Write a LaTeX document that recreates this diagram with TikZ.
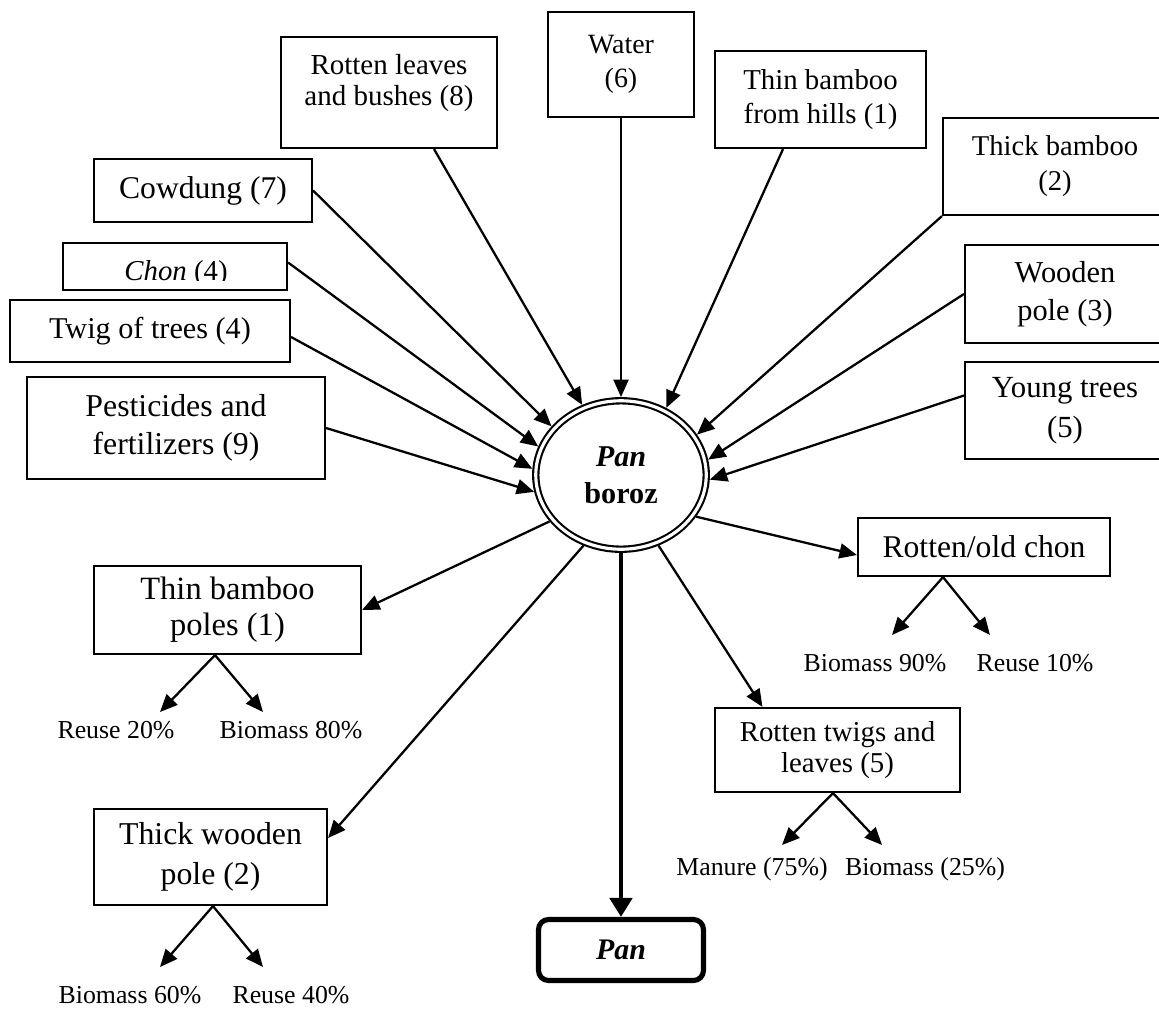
\documentclass[tikz,border=0pt]{standalone}
\usepackage{fontspec}
\setmainfont{Liberation Serif}
\usetikzlibrary{arrows.meta,shapes.geometric,calc}
\begin{document}
\begin{tikzpicture}[x=0.02cm,y=-0.02cm,
  box/.style={draw,line width=1.25pt,inner sep=0pt,align=center},
  arr/.style={line width=1.3pt,-{Triangle[length=0.35cm,width=0.3cm]}},
  lbl/.style={anchor=base,inner sep=0pt,font=\fontsize{14.7pt}{17pt}\selectfont},
]
\useasboundingbox (0,0) rectangle (1159,1011);
\clip (0,0) rectangle (1159,1011);

% input boxes
\node[box,minimum width=4.32cm,minimum height=2.22cm] (leaves) at (389,92.5) {};
\node[align=center,inner sep=0pt,font=\fontsize{16.5pt}{18.1pt}\selectfont] (leavesT) at (389,83) {Rotten leaves\\and bushes (8)};
\node[box,minimum width=2.92cm,minimum height=2.10cm,font=\fontsize{15.9pt}{19.3pt}\selectfont] (water) at (621,64.5) {Water\\(6)};
\node[box,minimum width=4.22cm,minimum height=1.94cm,font=\fontsize{16.4pt}{19.3pt}\selectfont] (hills) at (820.5,99.5) {Thin bamboo\\from hills (1)};
\node[box,minimum width=4.48cm,minimum height=1.94cm,font=\fontsize{16.3pt}{19.8pt}\selectfont] (thickb) at (1055,166.5) {Thick bamboo\\(2)};
\node[box,minimum width=4.0cm,minimum height=1.96cm,font=\fontsize{17.3pt}{21.5pt}\selectfont] (wooden) at (1065,294) {Wooden\\pole (3)};
\node[box,minimum width=4.0cm,minimum height=1.94cm,font=\fontsize{17.5pt}{23pt}\selectfont] (young) at (1065,410.5) {Young trees\\(5)};
\node[box,minimum width=4.36cm,minimum height=1.26cm,font=\fontsize{18pt}{21pt}\selectfont] (cowdung) at (203,190.5) {Cowdung (7)};
\node[box,minimum width=4.48cm,minimum height=0.94cm] (chon) at (175,266.5) {};
\begin{scope}
  \clip (64,244) rectangle (286,280.5);
  \node[anchor=base,inner sep=0pt,font=\fontsize{16.4pt}{19pt}\selectfont] (chonT) at (176,280) {\textit{Chon} (4)};
\end{scope}
\node[box,minimum width=5.6cm,minimum height=1.24cm,font=\fontsize{17.2pt}{20pt}\selectfont] (twig) at (150,331) {Twig of trees (4)};
\node[box,minimum width=5.96cm,minimum height=2.04cm,font=\fontsize{18.1pt}{21.5pt}\selectfont] (pesticides) at (176,428) {Pesticides and\\fertilizers (9)};

% centre
\node[ellipse,draw,double,line width=1.2pt,double distance=1.8pt,outer sep=2.1pt,inner sep=0pt,
      minimum width=3.41cm,minimum height=2.97cm,align=center,
      font=\fontsize{17.2pt}{21pt}\selectfont\bfseries] (boroz) at (621,475) {\textit{Pan}\\boroz};

% output boxes
\node[box,minimum width=5.34cm,minimum height=1.76cm,font=\fontsize{18.5pt}{20.4pt}\selectfont] (poles) at (227.5,610) {Thin bamboo\\poles (1)};
\node[box,minimum width=4.66cm,minimum height=1.92cm,font=\fontsize{18.1pt}{23pt}\selectfont] (thickwood) at (210.5,857) {Thick wooden\\pole (2)};
\node[box,minimum width=5.04cm,minimum height=1.16cm,font=\fontsize{18pt}{21pt}\selectfont] (oldchon) at (984,547) {Rotten/old chon};
\node[box,minimum width=4.90cm,minimum height=1.68cm,font=\fontsize{16.4pt}{18.1pt}\selectfont] (twigs) at (837.5,750) {Rotten twigs and\\leaves (5)};
\node[draw,line width=2.9pt,rounded corners=0.2cm,minimum width=3.3cm,minimum height=1.22cm,inner sep=0pt,
      font=\fontsize{17pt}{20pt}\selectfont\bfseries\itshape] (pan) at (621,950) {Pan};

% inputs
\draw[arr] ($(leaves.south)+(45,0)$) -- (boroz.119);
\draw[arr] (water.south) -- (boroz.north);
\draw[arr] ($(hills.south)+(-37.5,0)$) -- (boroz.56);
\draw[arr] (thickb.south west) -- (boroz.28);
\draw[arr] (wooden.west) -- (boroz.10);
\draw[arr] ($(young.west)+(0,-15)$) -- (boroz.-3);
\draw[arr] (cowdung.east) -- (boroz.145);
\draw[arr] ($(chon.east)+(0,-4)$) -- (boroz.161);
\draw[arr] ($(twig.east)+(0,6)$) -- (boroz.176);
\draw[arr] (pesticides.east) -- (boroz.191);

% outputs
\draw[arr] (boroz.213) -- (poles.east);
\draw[arr] (boroz.242) -- ($(thickwood.east)+(0,-19)$);
\draw[arr] (boroz.298) -- ($(twigs.north)+(-75,0)$);
\draw[arr] (boroz.331) -- ($(oldchon.west)+(0,8)$);
\draw[line width=2.7pt,-{Triangle[length=0.38cm,width=0.44cm]}] (boroz.south) -- (pan.north);

% forks
\coordinate (pA) at (160,712);
\coordinate (pB) at (263,712);
\draw[arr] ($(poles.south)+(-12.5,0)$) -- (pA);
\draw[arr] ($(poles.south)+(-12.5,0)$) -- (pB);
\node[lbl] (reuse20) at (116,738) {Reuse 20\%};
\node[lbl] (bio80) at (291,738) {Biomass 80\%};

\coordinate (tA) at (160,967);
\coordinate (tB) at (263,967);
\draw[arr] ($(thickwood.south)+(2.5,0)$) -- (tA);
\draw[arr] ($(thickwood.south)+(2.5,0)$) -- (tB);
\node[lbl] (bio60) at (130,1003) {Biomass 60\%};
\node[lbl] (reuse40) at (291,1003) {Reuse 40\%};

\coordinate (cA) at (892,635);
\coordinate (cB) at (990,635);
\draw[arr] ($(oldchon.south)+(-41,0)$) -- (cA);
\draw[arr] ($(oldchon.south)+(-41,0)$) -- (cB);
\node[lbl] (bio90) at (875,671) {Biomass 90\%};
\node[lbl] (reuse10) at (1035,671) {Reuse 10\%};

\coordinate (wA) at (782,845);
\coordinate (wB) at (882,845);
\draw[arr] ($(twigs.south)+(-4.5,0)$) -- (wA);
\draw[arr] ($(twigs.south)+(-4.5,0)$) -- (wB);
\node[lbl] (manure) at (752,875) {Manure (75\%)};
\node[lbl] (bio25) at (925,875) {Biomass (25\%)};
\end{tikzpicture}
\end{document}
